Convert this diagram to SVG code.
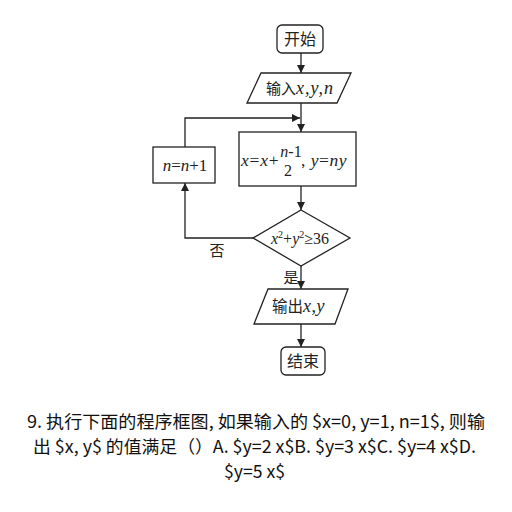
<svg xmlns="http://www.w3.org/2000/svg" width="512" height="512" viewBox="0 0 512 512">
<style>
.s{fill:#fff;stroke:#222;stroke-width:1.3}
.ln{fill:none;stroke:#222;stroke-width:1.3}
.cj{font-family:"Noto Sans CJK SC","Noto Sans",sans-serif;fill:#222}
.m{font-family:"Liberation Serif",serif;font-style:italic;fill:#222}
.r{font-family:"Liberation Serif",serif;font-style:normal}
.q{font-family:"Noto Sans CJK SC","Noto Sans",sans-serif;font-size:17.5px;fill:#111}
</style>
<defs>
<marker id="ah" viewBox="0 0 10 10" refX="10" refY="5" markerWidth="8" markerHeight="8" markerUnits="userSpaceOnUse" orient="auto">
<path d="M0,0 L10,5 L0,10 Z" fill="#222"/>
</marker>
</defs>
<rect width="512" height="512" fill="#fff"/>
<g id="connectors">
<line class="ln" x1="301" y1="53" x2="301" y2="73" marker-end="url(#ah)"/>
<line class="ln" x1="301" y1="103" x2="301" y2="132" marker-end="url(#ah)"/>
<polyline class="ln" points="185,147 185,118 300,118" marker-end="url(#ah)"/>
<line class="ln" x1="301" y1="186" x2="301" y2="210" marker-end="url(#ah)"/>
<polyline class="ln" points="253,238 185,238 185,183" marker-end="url(#ah)"/>
<line class="ln" x1="301" y1="266" x2="301" y2="289" marker-end="url(#ah)"/>
<line class="ln" x1="301" y1="324" x2="301" y2="347" marker-end="url(#ah)"/>
<text class="cj" x="217" y="256" font-size="15" text-anchor="middle">否</text>
<text class="cj" x="291" y="283" font-size="15" text-anchor="middle">是</text>
</g>
<g id="start">
<rect class="s" x="277" y="25" width="46" height="28" rx="5"/>
<text class="cj" x="300" y="45" font-size="16" text-anchor="middle">开始</text>
</g>
<g id="input">
<polygon class="s" points="261,73 351,73 337,103 247,103"/>
<text class="cj" x="266" y="94" font-size="15">输入<tspan class="m" font-size="18" letter-spacing="1">x,y,n</tspan></text>
</g>
<g id="update">
<rect class="s" x="239" y="132" width="117" height="54"/>
<text class="m" x="241" y="166" font-size="17.5" letter-spacing="0.8">x<tspan class="r">=</tspan>x<tspan class="r">+</tspan></text>
<text class="m" x="291" y="157" font-size="16" text-anchor="middle">n<tspan class="r">-1</tspan></text>
<text class="r" x="288" y="176" font-size="16" text-anchor="middle" fill="#222">2</text>
<text class="m" x="301" y="166" font-size="17.5" letter-spacing="0.5"><tspan class="r">, </tspan>y<tspan class="r">=</tspan>ny</text>
</g>
<g id="incr">
<rect class="s" x="153" y="147" width="62" height="36"/>
<text class="m" x="185" y="171" font-size="17" text-anchor="middle">n<tspan class="r">=</tspan>n<tspan class="r">+1</tspan></text>
</g>
<g id="cond">
<polygon class="s" points="301,210 350,238 301,266 253,238"/>
<text class="m" x="300" y="244" font-size="16" text-anchor="middle">x<tspan class="r" font-size="10" dy="-6">2</tspan><tspan class="r" dy="6">+</tspan>y<tspan class="r" font-size="10" dy="-6">2</tspan><tspan class="r" dy="6">≥36</tspan></text>
</g>
<g id="output">
<polygon class="s" points="268,289 348,289 335,324 254,324"/>
<text class="cj" x="272" y="312" font-size="15.5">输出<tspan class="m" font-size="18" letter-spacing="0.5">x,y</tspan></text>
</g>
<g id="end">
<rect class="s" x="281" y="347" width="44" height="28" rx="5"/>
<text class="cj" x="303" y="367" font-size="16" text-anchor="middle">结束</text>
</g>
<g id="question">
<text class="q" x="27" y="428" textLength="458" lengthAdjust="spacingAndGlyphs">9.  执行下面的程序框图, 如果输入的 $x=0, y=1, n=1$, 则输</text>
<text class="q" x="33" y="453" textLength="443" lengthAdjust="spacingAndGlyphs">出 $x, y$ 的值满足（）A. $y=2 x$B. $y=3 x$C. $y=4 x$D.</text>
<text class="q" x="224" y="478" textLength="61" lengthAdjust="spacingAndGlyphs">$y=5 x$</text>
</g>
</svg>
